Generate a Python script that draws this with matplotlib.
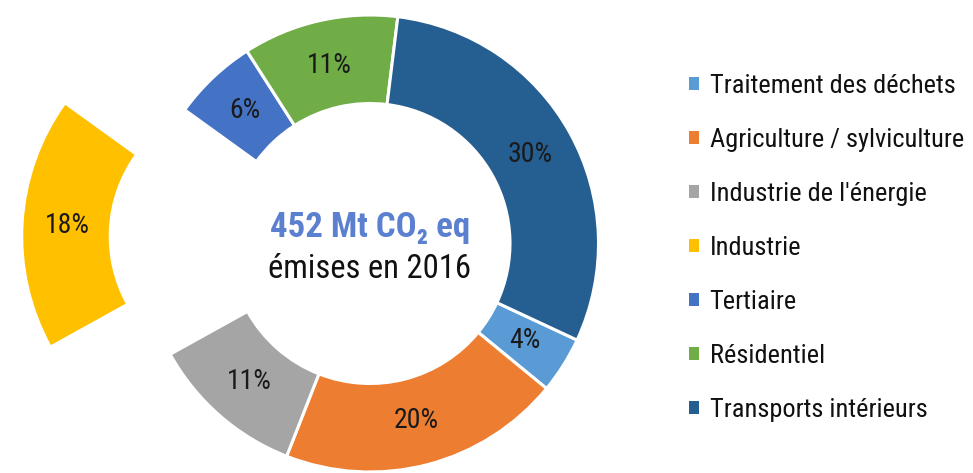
import matplotlib
matplotlib.use("Agg")
import matplotlib.pyplot as plt
from matplotlib.patches import Patch

categories = ["Traitement des déchets", "Agriculture / sylviculture", "Industrie de l'énergie",
              "Industrie", "Tertiaire", "Résidentiel", "Transports intérieurs"]
values = [4, 20, 11, 18, 6, 11, 30]
colors = ["#5B9BD5", "#ED7D31", "#A5A5A5", "#FFC000", "#4472C4", "#70AD47", "#255E91"]
explode_flags = [0, 0, 0, 1, 0, 0, 0]
center_title = "452 Mt CO\u2082 eq"
center_sub = "émises en 2016"

FONT = ["Roboto Condensed", "Liberation Sans Narrow", "DejaVu Sans"]
plt.rcParams['font.family'] = FONT

W, H = 973, 473
fig = plt.figure(figsize=(W / 100, H / 100), dpi=100)
ax = fig.add_axes([0, 0, 1, 1])

cx, cy = 370, H - 243.5
R = 228.5
ring = 88.5
offset = 120

wedges, texts, autotexts = ax.pie(
    values, colors=colors, startangle=-25, counterclock=False,
    explode=[f * offset for f in explode_flags],
    center=(cx, cy), radius=R, frame=True,
    wedgeprops=dict(width=ring, edgecolor='white', linewidth=2.2),
    autopct='%.0f%%', pctdistance=0.8,
    textprops=dict(fontsize=20, color='#1a1a1a'))
ax.set_xlim(0, W)
ax.set_ylim(0, H)
ax.set_aspect('equal')
ax.axis('off')

ax.text(cx, H - 228, center_title, ha='center', va='center', fontsize=25,
        fontweight='bold', color='#5B80D0')
ax.text(cx, H - 269, center_sub, ha='center', va='center', fontsize=23.5, color='#111111')

handles = [Patch(facecolor=c, edgecolor='none') for c in colors]
leg = fig.legend(handles, categories, loc='upper left', bbox_to_anchor=(678.5 / W, 1 - 63 / H),
                 frameon=False, fontsize=19, handlelength=0.38, handleheight=0.38,
                 handletextpad=0.4, labelspacing=1.14, borderaxespad=0)
for t in leg.get_texts():
    t.set_color('#111111')

fig.savefig("out.png", dpi=100)
